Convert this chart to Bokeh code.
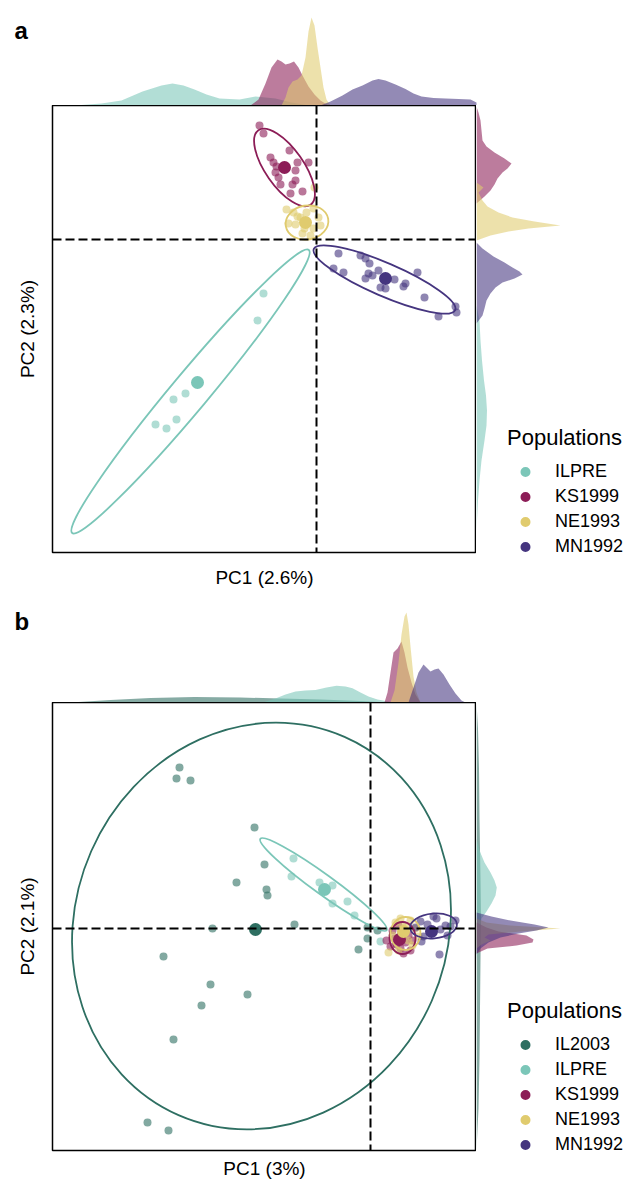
from bokeh.plotting import figure
from bokeh.layouts import column, row
from bokeh.models import Range1d, Span, Label, Legend, LegendItem, FixedTicker
from bokeh.embed import file_html
from bokeh.resources import INLINE
import math

FONT = "Liberation Sans"

colors = {"IL2003": "#2E6F62", "ILPRE": "#7BC6B8", "KS1999": "#8C1D57",
          "NE1993": "#E0CB6E", "MN1992": "#45357F"}

# ---------------- panel a data ----------------
a_populations = ["ILPRE", "KS1999", "NE1993", "MN1992"]
a_xlabel = "PC1 (2.6%)"
a_ylabel = "PC2 (2.3%)"

a_ILPRE_pc1 = [-0.53, -0.59, -1.31, -1.43, -1.40, -1.61, -1.50]
a_ILPRE_pc2 = [-0.54, -0.81, -1.54, -1.60, -1.80, -1.85, -1.89]
a_KS1999_pc1 = [-0.57, -0.53, -0.27, -0.46, -0.43, -0.19, -0.08, -0.40, -0.21, -0.41, -0.38, -0.21, -0.36, -0.24, -0.26, -0.14]
a_KS1999_pc2 = [1.14, 1.06, 0.89, 0.82, 0.77, 0.77, 0.77, 0.73, 0.69, 0.67, 0.62, 0.59, 0.55, 0.55, 0.46, 0.48]
a_NE1993_pc1 = [-0.30, -0.28, -0.21, -0.19, -0.23, -0.16, -0.14, -0.06, -0.03, 0.02, 0.04, -0.02, -0.03, -0.10, -0.12]
a_NE1993_pc2 = [0.30, 0.16, 0.15, 0.23, 0.27, 0.22, 0.06, 0.04, 0.11, 0.22, 0.14, 0.52, 0.31, 0.27, 0.11]
a_MN1992_pc1 = [0.22, 0.44, 0.49, 0.53, 0.17, 0.27, 0.52, 0.49, 0.56, 0.62, 0.78, 0.64, 0.69, 0.89, 0.87, 1.01, 1.08, 1.39, 1.40, 1.22]
a_MN1992_pc2 = [-0.14, -0.16, -0.19, -0.24, -0.29, -0.33, -0.34, -0.39, -0.36, -0.31, -0.40, -0.48, -0.49, -0.44, -0.47, -0.33, -0.58, -0.67, -0.73, -0.77]

a_centroid_pc1 = [-1.19, -0.32, -0.11, 0.69]
a_centroid_pc2 = [-1.43, 0.72, 0.17, -0.39]

a_ellipse_pc1 = [-1.26, -0.32, -0.095, 0.68]
a_ellipse_pc2 = [-1.52, 0.72, 0.17, -0.40]
a_ellipse_axis1 = [3.69, 0.91, 0.43, 1.54]
a_ellipse_axis2 = [0.37, 0.38, 0.34, 0.33]
a_ellipse_angle_deg = [50.1, -55.0, 10.0, -23.4]

a_top_ILPRE_pc1 = [-2.45, -2.35, -2.15, -1.95, -1.74, -1.55, -1.44, -1.33, -1.22, -1.10, -0.97, -0.77, -0.61, -0.41, -0.25, -0.08]
a_top_ILPRE_dens = [0, 0.5, 2, 5, 14, 20, 22, 20, 16, 11, 7, 6, 9, 7, 3, 0]
a_top_KS1999_pc1 = [-0.66, -0.58, -0.51, -0.45, -0.39, -0.35, -0.31, -0.27, -0.225, -0.18, -0.14, -0.08, -0.02, 0.04, 0.12]
a_top_KS1999_dens = [0, 6, 22, 38, 46, 44, 41, 42, 44, 38, 30, 19, 11, 5, 0]
a_top_NE1993_pc1 = [-0.35, -0.31, -0.28, -0.24, -0.19, -0.15, -0.11, -0.08, -0.05, -0.02, 0.01, 0.04, 0.07, 0.10, 0.14]
a_top_NE1993_dens = [0, 8, 18, 24, 26, 30, 48, 74, 88, 80, 58, 38, 18, 6, 0]
a_top_MN1992_pc1 = [0.04, 0.14, 0.26, 0.36, 0.46, 0.56, 0.62, 0.69, 0.79, 0.89, 0.97, 1.05, 1.17, 1.29, 1.42, 1.54, 1.60]
a_top_MN1992_dens = [0, 4, 10, 16, 20, 25, 26.5, 25, 21, 16.5, 12, 9, 7.5, 7, 6.5, 6, 3]

a_right_ILPRE_pc2 = [-0.66, -0.81, -1.01, -1.21, -1.41, -1.56, -1.71, -1.86, -2.01, -2.21, -2.41, -2.61, -2.91]
a_right_ILPRE_dens = [0, 3, 4, 5.5, 7.5, 9.5, 10.5, 10, 8, 5, 3, 1.5, 0]
a_right_KS1999_pc2 = [1.33, 1.27, 1.19, 1.09, 0.99, 0.93, 0.87, 0.81, 0.76, 0.71, 0.67, 0.61, 0.55, 0.49, 0.43, 0.36]
a_right_KS1999_dens = [0, 2, 4, 5, 6, 10, 18, 28, 35, 31, 26, 21, 18, 14, 8, 0]
a_right_NE1993_pc2 = [0.57, 0.52, 0.47, 0.39, 0.33, 0.27, 0.22, 0.18, 0.14, 0.11, 0.08, 0.04, -0.01]
a_right_NE1993_dens = [0, 7, 2, 6, 11, 22, 36, 58, 84, 52, 32, 14, 0]
a_right_MN1992_pc2 = [-0.03, -0.09, -0.17, -0.23, -0.28, -0.32, -0.35, -0.39, -0.43, -0.48, -0.54, -0.61, -0.69, -0.76, -0.84]
a_right_MN1992_dens = [0, 6, 17, 28, 36, 43, 46, 38, 26, 19, 14, 10, 8, 6, 0]

# ---------------- panel b data ----------------
b_populations = ["IL2003", "ILPRE", "KS1999", "NE1993", "MN1992"]
b_xlabel = "PC1 (3%)"
b_ylabel = "PC2 (2.1%)"

b_IL2003_pc1 = [-1.91, -1.94, -1.80, -1.16, -1.06, -1.34, -1.04, -1.03, -1.58, -0.76, -0.03, 0.07, -0.03, -0.12, -2.07, -1.60, -1.23, -1.69, -1.97, -2.23, -2.02]
b_IL2003_pc2 = [1.61, 1.50, 1.48, 1.01, 0.64, 0.46, 0.39, 0.33, 0.00, 0.04, 0.01, -0.02, -0.10, -0.21, -0.28, -0.56, -0.66, -0.77, -1.11, -1.94, -2.02]
b_ILPRE_pc1 = [-0.77, -0.79, -0.51, -0.38, -0.38, -0.23, -0.16, 0.10]
b_ILPRE_pc2 = [0.70, 0.52, 0.46, 0.43, 0.25, 0.27, 0.13, -0.13]
b_KS1999_pc1 = [0.22, 0.26, 0.30, 0.35, 0.38, 0.28, 0.40, 0.24, 0.33, 0.42, 0.20, 0.31, 0.16]
b_KS1999_pc2 = [-0.02, -0.16, -0.20, -0.14, -0.07, 0.03, -0.22, -0.10, -0.25, -0.12, -0.18, -0.04, -0.12]
b_NE1993_pc1 = [0.25, 0.30, 0.40, 0.45, 0.48, 0.42, 0.28, 0.22, 0.35, 0.38, 0.18, 0.32]
b_NE1993_pc2 = [0.06, 0.10, 0.08, 0.00, -0.08, -0.17, -0.22, -0.07, 0.01, -0.12, -0.24, 0.04]
b_MN1992_pc1 = [0.50, 0.66, 0.75, 0.53, 0.51, 0.69, 0.80, 0.70, 0.57, 0.60, 0.85, 0.45, 0.77, 0.63]
b_MN1992_pc2 = [0.07, 0.10, 0.03, -0.08, -0.13, -0.26, 0.02, -0.01, 0.04, -0.04, 0.08, 0.01, -0.07, 0.12]

b_centroid_pc1 = [-1.15, -0.46, 0.29, 0.33, 0.61]
b_centroid_pc2 = [-0.01, 0.39, -0.11, -0.03, -0.03]

b_ellipse_pc1 = [-1.09, -0.47, 0.32, 0.35, 0.63]
b_ellipse_pc2 = [0.025, 0.44, -0.095, -0.05, 0.025]
b_ellipse_axis1 = [4.13, 1.56, 0.26, 0.30, 0.47]
b_ellipse_axis2 = [3.72, 0.20, 0.32, 0.33, 0.25]
b_ellipse_angle_deg = [66.3, -35.9, 0.0, 0.0, 5.0]

b_top_IL2003_pc1 = [-3.0, -2.6, -2.2, -1.76, -1.30, -0.90, -0.50, -0.10, 0.20]
b_top_IL2003_dens = [0, 2.5, 4.5, 5.5, 5, 4, 3, 1.5, 0]
b_top_ILPRE_pc1 = [-1.08, -0.95, -0.85, -0.75, -0.65, -0.55, -0.44, -0.34, -0.25, -0.18, -0.10, -0.02, 0.07, 0.15, 0.25]
b_top_ILPRE_dens = [0, 4, 8, 11, 12, 12.5, 15, 16.7, 16, 14.3, 10, 6, 3, 1.5, 0]
b_top_KS1999_pc1 = [0.14, 0.17, 0.20, 0.23, 0.27, 0.31, 0.34, 0.37, 0.41, 0.45, 0.50]
b_top_KS1999_dens = [0, 10, 30, 50, 54, 61, 50, 35, 20, 8, 0]
b_top_NE1993_pc1 = [0.20, 0.24, 0.28, 0.31, 0.34, 0.36, 0.38, 0.40, 0.43, 0.46, 0.50]
b_top_NE1993_dens = [0, 12, 40, 68, 86, 90, 78, 56, 26, 10, 0]
b_top_MN1992_pc1 = [0.38, 0.43, 0.48, 0.53, 0.57, 0.60, 0.64, 0.68, 0.73, 0.79, 0.85, 0.91, 0.95]
b_top_MN1992_dens = [0, 15, 30, 38, 34, 31, 33, 34, 28, 18, 9, 2, 0]

b_right_IL2003_pc2 = [2.26, 2.0, 1.6, 1.1, 0.5, 0.1, -0.3, -0.8, -1.3, -1.8, -2.22]
b_right_IL2003_dens = [0, 1.5, 2.5, 3, 4, 4.5, 4, 3.5, 3, 2, 0]
b_right_ILPRE_pc2 = [0.90, 0.78, 0.66, 0.56, 0.48, 0.41, 0.33, 0.25, 0.17, 0.10, -0.02, -0.17, -0.32]
b_right_ILPRE_dens = [0, 3, 8, 14, 18, 20.3, 19, 15, 10, 5, 3, 2, 0]
b_right_KS1999_pc2 = [0.06, 0.01, -0.03, -0.07, -0.11, -0.14, -0.17, -0.20, -0.25]
b_right_KS1999_dens = [0, 10, 22, 50, 57, 56, 40, 11, 0]
b_right_NE1993_pc2 = [0.10, 0.06, 0.03, 0.0, -0.03, -0.06, -0.09, -0.12, -0.16, -0.20]
b_right_NE1993_dens = [0, 10, 34, 84, 44, 12, 8, 14, 5, 0]
b_right_MN1992_pc2 = [0.16, 0.12, 0.08, 0.04, 0.01, -0.02, -0.05, -0.09, -0.14, -0.20, -0.26]
b_right_MN1992_dens = [0, 15, 34, 58, 72, 60, 42, 24, 12, 4, 0]

# ---------------- layout constants (pixels) ----------------
TOTAL_W = 633
LEFT = 52
FRAME_W = 424
RIGHT_W = TOTAL_W - LEFT - FRAME_W


def closed(xs, ys):
    return [xs[0]] + list(xs) + [xs[-1]], [0] + list(ys) + [0]


def build_panel(tag, pops, pts, centroids, ellipses, top_d, right_d,
                xlim, ylim, top_h, frame_h, bottom, tag_baseline,
                xlab_standoff, xlabel, ylabel):
    xr = Range1d(*xlim)
    yr = Range1d(*ylim)
    ux = (xlim[1] - xlim[0]) / FRAME_W
    uy = (ylim[1] - ylim[0]) / frame_h

    # top marginal (frame spans the full width so the panel tag is inside it)
    top = figure(width=TOTAL_W, height=top_h,
                 x_range=Range1d(xlim[0] - LEFT * ux, xlim[1] + RIGHT_W * ux),
                 y_range=Range1d(0, top_h),
                 x_axis_type=None, y_axis_type=None, toolbar_location=None,
                 output_backend="svg", min_border=0)
    top.frame_align = False
    top.outline_line_color = None
    top.grid.visible = False
    for g in pops:
        if g in top_d:
            xs, ys = closed(*top_d[g])
            top.patch(xs, ys, fill_color=colors[g], fill_alpha=0.58, line_color=None)
    top.add_layout(Label(x=14, y=top_h - tag_baseline, x_units="screen", y_units="screen",
                         text=tag, text_font=FONT, text_font_size="24px",
                         text_font_style="bold", text_color="black",
                         text_baseline="alphabetic"))

    # main scatter
    main = figure(width=LEFT + FRAME_W, height=frame_h + bottom, x_range=xr, y_range=yr,
                  toolbar_location=None, output_backend="svg",
                  min_border_left=LEFT, min_border_right=0, min_border_top=0,
                  min_border_bottom=bottom)
    main.frame_align = False
    main.grid.visible = False
    main.outline_line_color = "black"
    main.outline_line_width = 1.5
    for ax, lab in ((main.xaxis, xlabel), (main.yaxis, ylabel)):
        ax.ticker = FixedTicker(ticks=[])
        ax.axis_label = lab
        ax.axis_label_text_font = FONT
        ax.axis_label_text_font_size = "19px"
        ax.axis_label_text_font_style = "normal"
        ax.axis_label_text_color = "black"
        ax.axis_line_color = None
        ax.major_tick_line_color = None
        ax.minor_tick_line_color = None
        ax.major_tick_out = 0
        ax.major_tick_in = 0
        ax.major_label_standoff = 0
        ax.major_label_text_font_size = "0px"
    main.xaxis.axis_label_standoff = xlab_standoff
    main.yaxis.axis_label_standoff = 15

    for g in pops:
        px, py = pts[g]
        main.scatter(px, py, size=8, fill_color=colors[g], fill_alpha=0.6, line_color=None)
    for i, g in enumerate(pops):
        ex, ey, w, h, ang = ellipses[i]
        main.ellipse(x=[ex], y=[ey], width=[w], height=[h], angle=[math.radians(ang)],
                     fill_color=None, line_color=colors[g], line_width=1.8)
    cx, cy = centroids
    main.scatter(cx, cy, size=13, fill_color=[colors[g] for g in pops], line_color=None)
    for dim in ("height", "width"):
        main.add_layout(Span(location=0, dimension=dim, line_color="black",
                             line_width=2, line_dash="9 4"))

    # right marginal (frame extended down through the bottom border, same scale)
    right = figure(width=RIGHT_W, height=frame_h + bottom,
                   x_range=Range1d(0, RIGHT_W),
                   y_range=Range1d(ylim[0] - bottom * uy, ylim[1]),
                   x_axis_type=None, y_axis_type=None, toolbar_location=None,
                   output_backend="svg", min_border=0)
    right.frame_align = False
    right.outline_line_color = None
    right.grid.visible = False
    for g in pops:
        if g in right_d:
            ys, xs = closed(*right_d[g])
            right.patch(xs, ys, fill_color=colors[g], fill_alpha=0.58, line_color=None)
    items = []
    for g in pops:
        r = right.scatter([float("nan")], [float("nan")], size=10,
                          fill_color=colors[g], line_color=None)
        items.append(LegendItem(label=g, renderers=[r]))
    legend = Legend(items=items, location=(31, bottom - 7), title="Populations",
                    title_text_font=FONT, title_text_font_size="22px",
                    title_text_font_style="normal", title_text_color="black",
                    title_standoff=8,
                    label_text_font=FONT, label_text_font_size="18px",
                    label_text_color="black",
                    glyph_width=36, glyph_height=25, label_height=25,
                    label_standoff=12, spacing=0, padding=0, margin=0,
                    border_line_color=None, background_fill_alpha=0)
    right.add_layout(legend)
    return top, main, right


a_pts = {"ILPRE": (a_ILPRE_pc1, a_ILPRE_pc2), "KS1999": (a_KS1999_pc1, a_KS1999_pc2),
         "NE1993": (a_NE1993_pc1, a_NE1993_pc2), "MN1992": (a_MN1992_pc1, a_MN1992_pc2)}
a_ell = list(zip(a_ellipse_pc1, a_ellipse_pc2, a_ellipse_axis1, a_ellipse_axis2, a_ellipse_angle_deg))
a_top = {"ILPRE": (a_top_ILPRE_pc1, a_top_ILPRE_dens), "KS1999": (a_top_KS1999_pc1, a_top_KS1999_dens),
         "NE1993": (a_top_NE1993_pc1, a_top_NE1993_dens), "MN1992": (a_top_MN1992_pc1, a_top_MN1992_dens)}
a_right = {"ILPRE": (a_right_ILPRE_pc2, a_right_ILPRE_dens), "KS1999": (a_right_KS1999_pc2, a_right_KS1999_dens),
           "NE1993": (a_right_NE1993_pc2, a_right_NE1993_dens), "MN1992": (a_right_MN1992_pc2, a_right_MN1992_dens)}

b_pts = {"IL2003": (b_IL2003_pc1, b_IL2003_pc2), "ILPRE": (b_ILPRE_pc1, b_ILPRE_pc2),
         "KS1999": (b_KS1999_pc1, b_KS1999_pc2), "NE1993": (b_NE1993_pc1, b_NE1993_pc2),
         "MN1992": (b_MN1992_pc1, b_MN1992_pc2)}
b_ell = list(zip(b_ellipse_pc1, b_ellipse_pc2, b_ellipse_axis1, b_ellipse_axis2, b_ellipse_angle_deg))
b_top = {"IL2003": (b_top_IL2003_pc1, b_top_IL2003_dens), "ILPRE": (b_top_ILPRE_pc1, b_top_ILPRE_dens),
         "KS1999": (b_top_KS1999_pc1, b_top_KS1999_dens), "NE1993": (b_top_NE1993_pc1, b_top_NE1993_dens),
         "MN1992": (b_top_MN1992_pc1, b_top_MN1992_dens)}
b_right = {"IL2003": (b_right_IL2003_pc2, b_right_IL2003_dens), "ILPRE": (b_right_ILPRE_pc2, b_right_ILPRE_dens),
           "KS1999": (b_right_KS1999_pc2, b_right_KS1999_dens), "NE1993": (b_right_NE1993_pc2, b_right_NE1993_dens),
           "MN1992": (b_right_MN1992_pc2, b_right_MN1992_dens)}

BOTTOM_A = 40
BOTTOM_B = 36
ta, ma, ra = build_panel("a", a_populations, a_pts, (a_centroid_pc1, a_centroid_pc2), a_ell,
                         a_top, a_right, (-2.64, 1.60), (-3.13, 1.34),
                         105, 447, BOTTOM_A, 30, 14, a_xlabel, a_ylabel)
tb, mb, rb = build_panel("b", b_populations, b_pts, (b_centroid_pc1, b_centroid_pc2), b_ell,
                         b_top, b_right, (-3.18, 1.06), (-2.22, 2.26),
                         150 - BOTTOM_A, 448, BOTTOM_B, 29, 7, b_xlabel, b_ylabel)

layout = column(ta, row(ma, ra), tb, row(mb, rb))
open("out.html", "w").write(file_html(layout, INLINE))
